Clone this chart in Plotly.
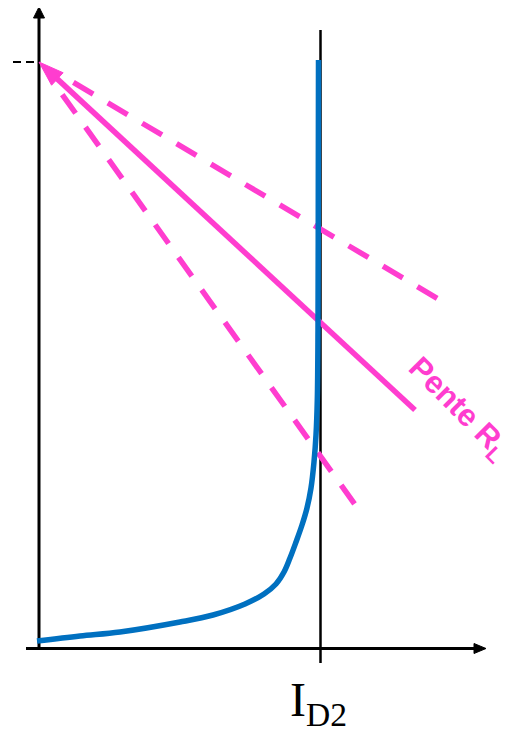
import math
import plotly.graph_objects as go

# ---- data (diagram coordinates, pixel-like, y grows downward) ----
origin = (39, 648.5)
y_axis_top = 7
x_axis_left = 26
x_axis_right = 486
y_axis_bottom = 650

vline_x = 320.5          # I_D2 operating current line
vline_y = [30, 663]

q_point = (39, 62)       # common start of the load lines
q_dash_x = [0, 39]

# diode characteristic (blue)
curve_x = [37, 80, 120, 180, 213, 245, 264, 276, 284, 290, 296, 302, 307, 311, 314, 316, 317.3, 318, 318.3, 318.5]
curve_y = [641, 636, 632, 622, 615, 604, 594, 584, 572, 558, 542, 525, 508, 488, 462, 435, 400, 330, 180, 60]

# load lines: end points
solid_end = (415, 410)
dash1_end = (440, 300)
dash2_end = (361, 513)

label_text = "Pente R<sub>L</sub>"
label_pos = (458, 409)
xlabel_text = "I<sub>D2</sub>"

PINK = "#FF3DCF"
BLUE = "#0070C0"
BLACK = "#000000"

PAGE_MARGIN = 8  # default body margin of the html page

fig = go.Figure()


def head(tip, tail, length, width):
    dx, dy = tip[0] - tail[0], tip[1] - tail[1]
    d = math.hypot(dx, dy)
    ux, uy = dx / d, dy / d
    bx, by = tip[0] - ux * length, tip[1] - uy * length
    px, py = -uy, ux
    xs = [tip[0], bx + px * width / 2, bx - px * width / 2, tip[0]]
    ys = [tip[1], by + py * width / 2, by - py * width / 2, tip[1]]
    return xs, ys, (bx + ux * 2, by + uy * 2)


def add_line(x, y, color, width, dash=None, shape="linear"):
    fig.add_trace(go.Scatter(x=x, y=y, mode="lines", hoverinfo="skip",
                             line=dict(color=color, width=width, dash=dash, shape=shape)))


def add_head(tip, tail, length, width, color):
    xs, ys, base = head(tip, tail, length, width)
    fig.add_trace(go.Scatter(x=xs, y=ys, mode="lines", fill="toself", fillcolor=color,
                             line=dict(color=color, width=1), hoverinfo="skip"))
    return base


# axes
base = add_head((origin[0], y_axis_top), (origin[0], y_axis_bottom), 11, 11, BLACK)
add_line([origin[0], origin[0]], [y_axis_bottom, base[1]], BLACK, 3)
base = add_head((x_axis_right, origin[1]), (x_axis_left, origin[1]), 12, 10, BLACK)
add_line([x_axis_left, base[0]], [origin[1], origin[1]], BLACK, 3)

# vertical I_D2 line
add_line([vline_x, vline_x], vline_y, BLACK, 2.5)

# dashed reference at top-left
add_line(q_dash_x, [q_point[1], q_point[1]], BLACK, 2, dash="8px,5px")

# dashed load lines (dash pattern starting one period away from the point)
for end in (dash1_end, dash2_end):
    L = math.hypot(end[0] - q_point[0], end[1] - q_point[1])
    f = 40 / L
    sx = q_point[0] + (end[0] - q_point[0]) * f
    sy = q_point[1] + (end[1] - q_point[1]) * f
    add_line([sx, end[0]], [sy, end[1]], PINK, 5.5, dash="23px,17px")

# solid load line with arrow head
base = add_head(q_point, solid_end, 25, 17, PINK)
add_line([base[0], solid_end[0]], [base[1], solid_end[1]], PINK, 5.5)

# diode curve
add_line(curve_x, curve_y, BLUE, 5.5, shape="spline")

fig.add_annotation(x=label_pos[0], y=label_pos[1], text=label_text, showarrow=False,
                   textangle=45, font=dict(family="Liberation Sans", size=31, color=PINK, weight="bold"))
fig.add_annotation(x=vline_x - 2, y=671, yanchor="top", text=xlabel_text, showarrow=False,
                   font=dict(family="Liberation Serif", size=48, color=BLACK))

W, H = 514, 741
fig.update_layout(
    width=W - 2 * PAGE_MARGIN, height=H - 2 * PAGE_MARGIN, margin=dict(l=0, r=0, t=0, b=0),
    paper_bgcolor="white", plot_bgcolor="white", showlegend=False,
    xaxis=dict(range=[PAGE_MARGIN, W - PAGE_MARGIN], visible=False, fixedrange=True),
    yaxis=dict(range=[H - PAGE_MARGIN, PAGE_MARGIN], visible=False, fixedrange=True),
)
fig.write_html("out.html")
